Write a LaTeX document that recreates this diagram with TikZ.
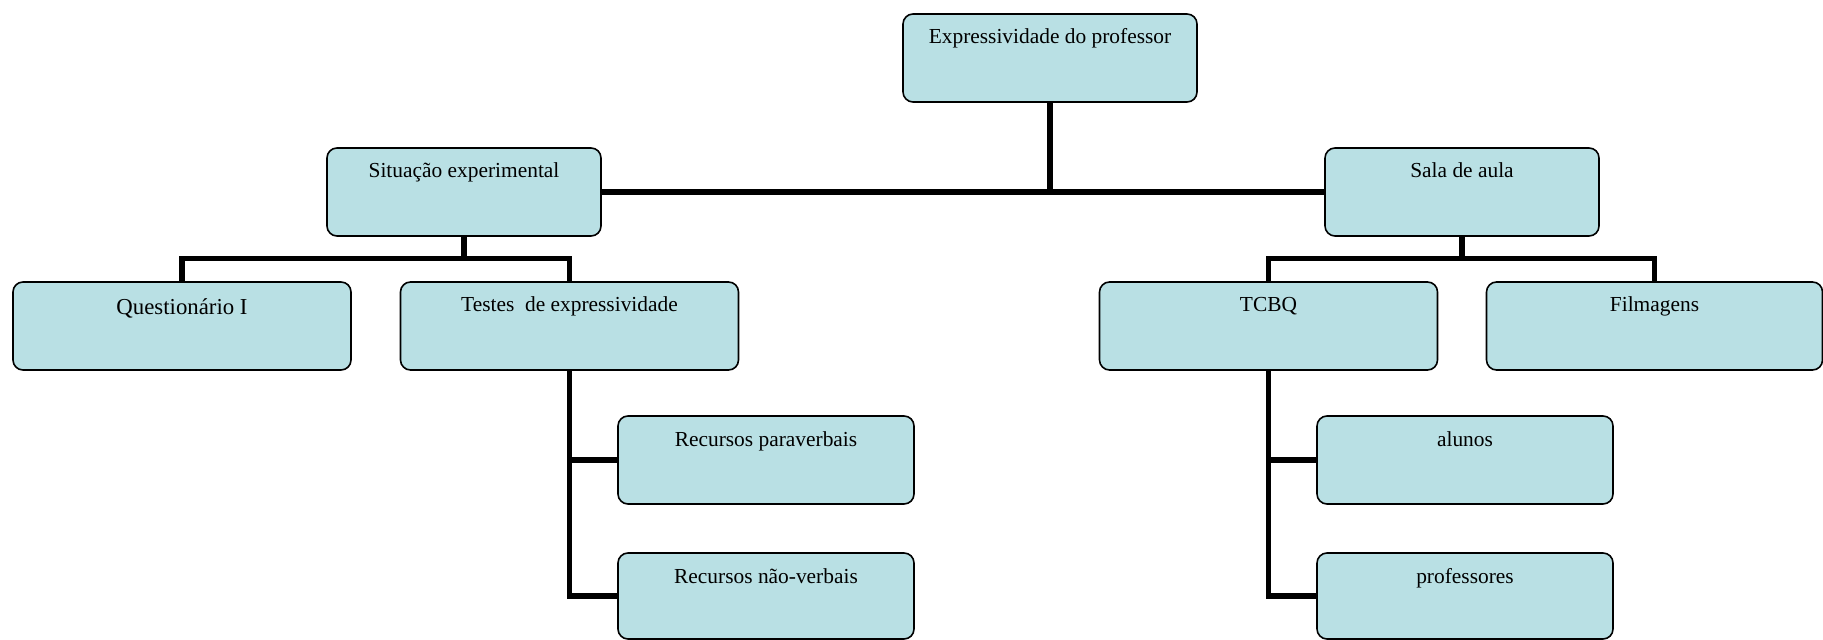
\documentclass[tikz,border=0pt]{standalone}
\usepackage{fontspec}
\setmainfont{Liberation Serif}
\usepackage{tikz}
\usepackage{xcolor}

\definecolor{boxfill}{RGB}{185,224,228}

\begin{document}
\begin{tikzpicture}[x=1pt,y=1pt,
    box/.style={draw=black, line width=0.8pt, fill=boxfill, rounded corners=5pt,
      inner sep=0pt, text height=15pt, text depth=29pt, minimum height=44pt,
      font=\fontsize{10.7}{12}\selectfont},
    lowbox/.style={box, text depth=28pt, minimum height=43pt},
    link/.style={line width=2.6pt}]
  \useasboundingbox (0,0) rectangle (911.5,-320);

  % Define boxes
  \node (root) at (525,-29) [box, minimum width=147pt] {Expressividade do professor};

  \node (sit) at (232,-96) [box, minimum width=137pt] {Situação experimental};
  \node (sala) at (731,-96) [box, minimum width=137pt] {Sala de aula};

  \node (quest) at (91,-163) [box, minimum width=169pt, text height=16.5pt, text depth=27.5pt,
    font=\fontsize{11.4}{13}\selectfont] {Questionário I};
  \node (testes) at (284.75,-163) [box, minimum width=169pt] {Testes\ \ de expressividade};
  \node (tcbq) at (634.25,-163) [box, minimum width=169pt] {TCBQ};
  \node (film) at (827.25,-163) [box, minimum width=168pt] {Filmagens};

  \node (para) at (383,-230) [box, minimum width=148pt] {Recursos paraverbais};
  \node (naov) at (383,-298) [lowbox, minimum width=148pt] {Recursos não-verbais};
  \node (alunos) at (732.5,-230) [box, minimum width=148pt] {alunos};
  \node (profs) at (732.5,-298) [lowbox, minimum width=148pt] {professores};

  % Draw links
  \draw[link] (sit.east) -- (sala.west);
  \draw[link] (root.south) -- (root.south |- sit.east);

  \draw[link] (sit.south) -- ++(0,-11) coordinate (sitj);
  \draw[link] (quest.north) |- (sitj) -| (testes.north);
  \draw[link] (sala.south) -- ++(0,-11) coordinate (salaj);
  \draw[link] (tcbq.north) |- (salaj) -| (film.north);

  \draw[link] (testes.south) |- (naov.west);
  \draw[link] (testes.south |- para.west) -- (para.west);
  \draw[link] (tcbq.south) |- (profs.west);
  \draw[link] (tcbq.south |- alunos.west) -- (alunos.west);
\end{tikzpicture}
\end{document}
